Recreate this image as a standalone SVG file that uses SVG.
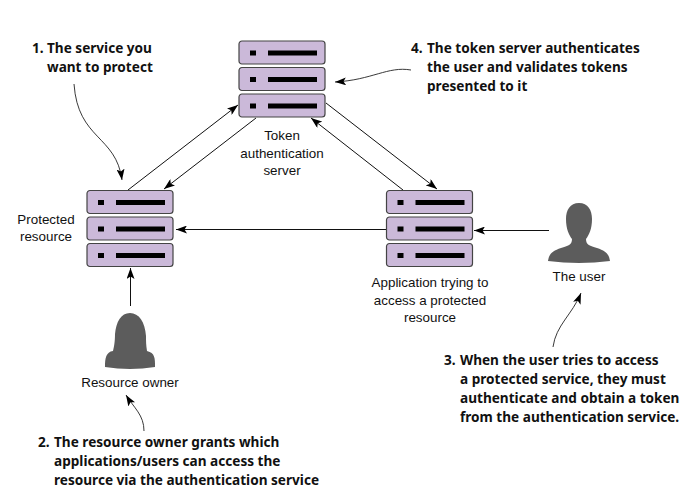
<svg xmlns="http://www.w3.org/2000/svg" width="695" height="500" viewBox="0 0 695 500">
<style>
.lab{font-family:"Liberation Sans",Arial,sans-serif;font-size:13.4px;fill:#111;text-anchor:middle}
.note{font-family:"Noto Sans","Open Sans",sans-serif;font-weight:700;font-size:13.6px;fill:#111}
.box{fill:#cbb9d9;stroke:#444;stroke-width:1.2}
.ln{fill:none;stroke:#111;stroke-width:1;marker-end:url(#a)}
.cv{fill:none;stroke:#222;stroke-width:.9;marker-end:url(#a)}
.sil{fill:#5c5c5c}
</style>
<defs>
<marker id="a" markerUnits="userSpaceOnUse" markerWidth="12" markerHeight="8" refX="11" refY="4" orient="auto"><path d="M0 0L11 4L0 8L2.5 4Z" fill="#000"/></marker>
<g id="s"><rect class="box" width="86" height="23" rx="3"/><rect x="11" y="9.500" width="6" height="5" fill="#000"/><rect x="29" y="9.500" width="49" height="5" fill="#000"/></g>
<g id="stack"><use href="#s"/><use href="#s" y="26.500"/><use href="#s" y="53"/></g>
</defs>
<g id="connectors">
<path class="ln" d="M128 190L238 105"/>
<path class="ln" d="M256 118L164 189"/>
<path class="ln" d="M326 103L437 189"/>
<path class="ln" d="M403 190L311 118"/>
<path class="ln" d="M386 229.500L176 229.500"/>
<path class="ln" d="M549 230.500L474 230.500"/>
<path class="ln" d="M130.500 306L130.500 268"/>
<path class="cv" d="M74 84C78 140 116 135 122 180"/>
<path class="cv" d="M411 70C388 66 372 80 335 82"/>
<path class="cv" d="M553 347C556 325 572 315 581 293"/>
<path class="cv" d="M144 431C144 415 134 408 126 395"/>
</g>
<g id="token-server"><use href="#stack" x="239" y="41"/>
<text class="lab" x="282" y="140">Token</text><text class="lab" x="282" y="157.500">authentication</text><text class="lab" x="282" y="175">server</text></g>
<g id="protected-resource"><use href="#stack" x="87" y="190.500"/>
<text class="lab" x="46" y="224">Protected</text><text class="lab" x="46" y="241">resource</text></g>
<g id="application"><use href="#stack" x="386.500" y="190.500"/>
<text class="lab" x="430" y="287">Application trying to</text><text class="lab" x="430" y="305">access a protected</text><text class="lab" x="430" y="322">resource</text></g>
<g id="user"><path class="sil" d="M579 203C570 203 566 210 566 219C566 229 569 235 572 239C572 245 568 246 561 248C552 251 549 254 548 261Q579 265 610 261C609 254 606 251 597 248C590 246 586 245 586 239C589 235 592 229 592 219C592 210 588 203 579 203Z"/>
<text class="lab" x="579" y="281">The user</text></g>
<g id="resource-owner"><path class="sil" d="M130 313C121 313 116 322 115 334C115 342 114 347 113 351C106 352 105 358 105 367Q130 371 155 367C155 358 155 353 147 351C146 345 146 341 146 336C145 322 139 313 130 313Z"/>
<text class="lab" x="130" y="387">Resource owner</text></g>
<g id="note-1"><text class="note" x="32" y="53">1.</text><text class="note" x="47" y="53">The service you</text><text class="note" x="47" y="72">want to protect</text></g>
<g id="note-2"><text class="note" x="38" y="447">2.</text><text class="note" x="54" y="447">The resource owner grants which</text><text class="note" x="54" y="466">applications/users can access the</text><text class="note" x="54" y="485">resource via the authentication service</text></g>
<g id="note-3"><text class="note" x="444" y="365">3.</text><text class="note" x="460" y="365">When the user tries to access</text><text class="note" x="460" y="384">a protected service, they must</text><text class="note" x="460" y="403">authenticate and obtain a token</text><text class="note" x="460" y="422">from the authentication service.</text></g>
<g id="note-4"><text class="note" x="411" y="53">4.</text><text class="note" x="427" y="53">The token server authenticates</text><text class="note" x="427" y="72">the user and validates tokens</text><text class="note" x="427" y="91">presented to it</text></g>
</svg>
